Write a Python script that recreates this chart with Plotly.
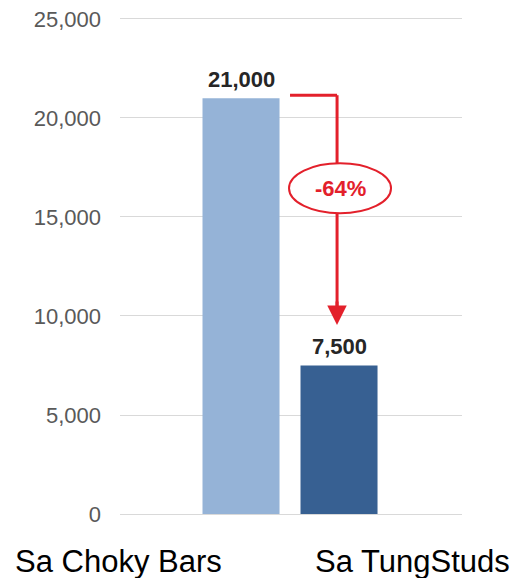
import plotly.graph_objects as go

categories = ["Sa Choky Bars", "Sa TungStuds"]
values = [21000, 7500]
bar_colors = ["#95B3D7", "#376092"]
y_ticks = [0, 5000, 10000, 15000, 20000, 25000]

# layout positions (not data), paper fractions of the plot width
label_x = [-0.004, 0.855]
badge_y = 16450
arrow_top = values[0] + 150
arrow_tip = values[1] + 2050

red = "#E3202B"
font = "Liberation Sans, Arial, sans-serif"

idx = list(range(len(categories)))
fig = go.Figure()
fig.add_trace(go.Bar(
    x=idx, y=values, width=0.786,
    marker=dict(color=bar_colors, line=dict(width=0)),
    hoverinfo="skip",
))

annotations = []
for i, v in zip(idx, values):
    annotations.append(dict(
        x=i, y=v, xref="x", yref="y", text=f"<b>{v:,}</b>", showarrow=False,
        yanchor="bottom", yshift=4,
        font=dict(family=font, size=22, color="#262626"),
    ))
for lx, c in zip(label_x, categories):
    annotations.append(dict(
        x=lx, y=0, xref="paper", yref="paper", text=c, showarrow=False,
        yanchor="middle", xanchor="center", yshift=-47,
        font=dict(family=font, size=31, color="#000000"),
    ))
pct = round((values[1] - values[0]) / values[0] * 100)
annotations.append(dict(
    x=1, y=badge_y, xref="x", yref="y", text=f"<b>{pct}%</b>", showarrow=False,
    font=dict(family=font, size=22, color=red), xshift=1,
))
# arrowhead
annotations.append(dict(
    x=1, y=arrow_tip, xref="x", yref="y", text="", showarrow=True,
    ax=0, ay=-25, arrowhead=2, arrowsize=1.3, arrowwidth=3, arrowcolor=red,
    standoff=0, xshift=-2,
))

shapes = [
    dict(type="line", xref="x", yref="y", x0=0.5, x1=0.98, y0=arrow_top, y1=arrow_top,
         line=dict(color=red, width=3)),
    dict(type="line", xref="x", yref="y", x0=0.98, x1=0.98, y0=arrow_top, y1=arrow_tip + 800,
         line=dict(color=red, width=3)),
    dict(type="circle", xref="x", yref="y", xsizemode="pixel", ysizemode="pixel",
         xanchor=1, yanchor=badge_y, x0=-50, x1=52, y0=-25, y1=25,
         fillcolor="white", line=dict(color=red, width=2)),
]

fig.update_layout(
    width=517, height=578,
    margin=dict(l=120, r=55, t=17, b=64),
    paper_bgcolor="white", plot_bgcolor="white",
    showlegend=False,
    annotations=annotations, shapes=shapes,
    xaxis=dict(range=[-1.235, 2.255], showticklabels=False, showgrid=False,
               zeroline=False, showline=False, fixedrange=True, automargin=False),
    yaxis=dict(range=[0, 25100], tickvals=y_ticks, tickformat=",",
               showgrid=True, gridcolor="#D9D9D9", gridwidth=1,
               zeroline=True, zerolinecolor="#D9D9D9", zerolinewidth=1,
               showline=False, ticks="", ticklabelstandoff=18,
               tickfont=dict(family=font, size=22, color="#595959"),
               fixedrange=True, automargin=False),
)

fig.write_html(
    "out.html",
    config={"displayModeBar": False},
    post_script="document.body.style.margin='0';document.body.style.overflow='hidden';",
)
